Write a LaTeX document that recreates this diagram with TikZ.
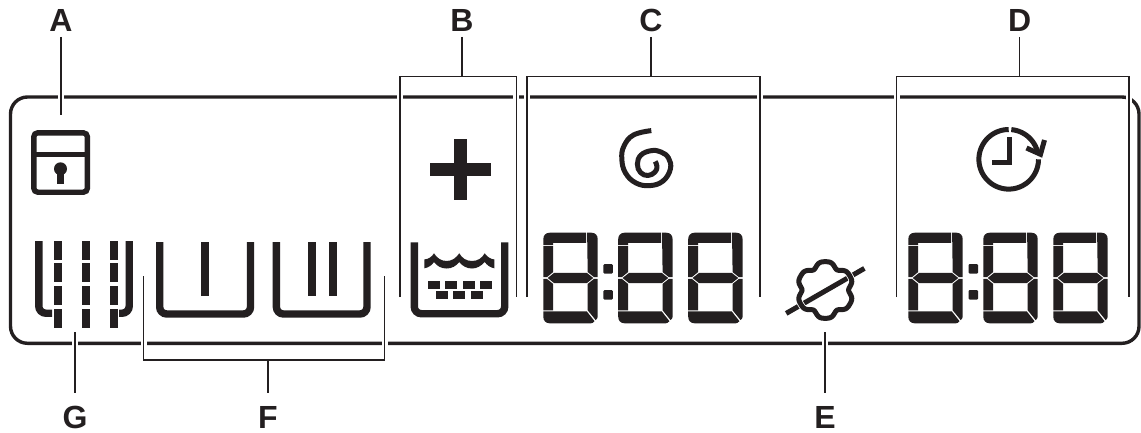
\documentclass[tikz,border=0pt]{standalone}
\usepackage{fontspec}
\setmainfont{Liberation Sans}
\definecolor{ink}{HTML}{231F20}
\tikzset{
  x=1pt,y=-1pt,
  toplabel/.style={font=\bfseries\fontsize{32}{32}\selectfont,text=ink,inner xsep=0pt,inner ysep=0pt,text height=23.5pt,text depth=0pt,anchor=center},
  botlabel/.style={font=\bfseries\fontsize{32}{32}\selectfont,text=ink,inner xsep=0pt,inner ysep=0pt,text height=23pt,text depth=0pt,anchor=center},
  leader/.style={draw=ink,line width=1.4pt,preaction={draw=white,line width=6pt}},
  leaderplain/.style={draw=ink,line width=1.4pt},
  frameline/.style={draw=ink,line width=3.4pt,rounded corners=17pt},
  icon/.style={draw=ink,line width=5pt,line cap=butt},
  tub/.style={draw=ink,line width=7.4pt,rounded corners=7pt,line cap=butt},
}
\newcommand{\lcddigit}[2]{%
\begin{scope}[shift={(#1,#2)}]
\fill[ink] (0,12.5) -- (0,6.5) .. controls (0,2.5) and (2.5,0) .. (6.5,0) -- (42.8,0) -- (42.8,10.2) -- (9.8,10.2) -- (9.8,12.5) -- cycle;
\fill[ink] (43.8,0) -- (48,0) .. controls (52,0) and (54.4,2.5) .. (54.4,6.5) -- (54.4,44.5) -- (50.8,44.5) -- (44.4,39.4) -- cycle;
\fill[ink] (0,13.5) -- (9.8,13.5) -- (9.8,39.4) -- (3.6,44.5) -- (0,44.5) -- cycle;
\fill[ink] (4.4,45.3) -- (10.8,40.2) -- (43.6,40.2) -- (50,45.3) -- (43.6,50.4) -- (10.8,50.4) -- cycle;
\fill[ink] (0,46.1) -- (3.6,46.1) -- (9.8,51.2) -- (9.8,77.6) -- (0,77.6) -- cycle;
\fill[ink] (0,78.6) -- (43.4,78.6) -- (51.2,88.4) .. controls (50,90) and (49,90.6) .. (47.5,90.6) -- (6.5,90.6) .. controls (2.5,90.6) and (0,88) .. (0,84) -- cycle;
\fill[ink] (44.4,51.2) -- (50.8,46.1) -- (54.4,46.1) -- (54.4,84) .. controls (54.4,85.2) and (53.6,86.4) .. (52.4,87.4) -- (44.4,77.6) -- cycle;
\end{scope}}
\newcommand{\lcdcolon}[2]{%
\fill[ink,rounded corners=1.2pt] (#1,#2) rectangle ++(9.6,9.6);
\fill[ink,rounded corners=1.2pt] (#1,#2+26) rectangle ++(9.6,9.6);}
\begin{document}
\begin{tikzpicture}
\useasboundingbox[fill=white] (0,0) rectangle (1141,432);
% frame
\draw[frameline] (10.5,97) rectangle (1139,343.3);
% labels
\node[toplabel] (A) at (61,19.85) {A};
\node[toplabel] (B) at (462,19.85) {B};
\node[toplabel] (C) at (651,19.85) {C};
\node[toplabel] (D) at (1019.7,19.85) {D};
\node[botlabel] (E) at (825,416.5) {E};
\node[botlabel] (F) at (268,416.5) {F};
\node[botlabel] (G) at (75,416.5) {G};
% named ends
\coordinate (Aend) at (61,115);
\coordinate (Eend) at (825,332);
\coordinate (Gend) at (75,332);
\coordinate (Bl) at (400,297); \coordinate (Br) at (516.3,297);
\coordinate (Cl) at (527,297); \coordinate (Cr) at (760,297);
\coordinate (Dl) at (896.5,297); \coordinate (Dr) at (1129,297);
\coordinate (Fl) at (143.5,276); \coordinate (Fr) at (384.7,276);
\coordinate (Ttop) at (0,76.3);
\coordinate (Fbot) at (0,360);
% leaders
\path[leader,shorten <=5pt] (A.south) -- (Aend);
\path[leader,shorten <=12pt] (E.north) -- (Eend);
\path[leader,shorten <=12pt] (G.north) -- (Gend);
\path[leader,line join=miter] (Bl) -- (Bl |- Ttop) -- (Br |- Ttop) -- (Br);
\path[leader,line join=miter] (Cl) -- (Cl |- Ttop) -- (Cr |- Ttop) -- (Cr);
\path[leader,line join=miter] (Dl) -- (Dl |- Ttop) -- (Dr |- Ttop) -- (Dr);
\path[leader,line join=miter] (Fl) -- (Fl |- Fbot) -- (Fr |- Fbot) -- (Fr);
\path[leaderplain,shorten <=5pt] (B.south) -- (B.south |- Ttop);
\path[leaderplain,shorten <=5pt] (C.south) -- (C.south |- Ttop);
\path[leaderplain,shorten <=5pt] (D.south) -- (D.south |- Ttop);
\path[leaderplain,shorten <=12pt] (F.north) -- (F.north |- Fbot);
% lock
\draw[draw=ink,line width=5.4pt,rounded corners=4pt] (33.8,132.8) rectangle (87.4,192.2);
\fill[ink] (33.8,151.6) rectangle (87.4,157);
\fill[ink] (60.5,168.8) circle (6.5);
\fill[ink] (57.4,170) rectangle (63.6,184);
% G icon
\draw[tub] (38.8,241) -- (38.8,313.2) -- (52,313.2);
\draw[tub] (129.2,241) -- (129.2,313.2) -- (119,313.2);
\foreach \xx in {54,82,110}{
  \fill[ink] (\xx,241) rectangle ++(8,19);
  \fill[ink] (\xx,263.3) rectangle ++(8,18.7);
  \fill[ink] (\xx,286) rectangle ++(8,19);
  \fill[ink] (\xx,309) rectangle ++(8,18.8);
}
% tubs
\draw[tub] (159.7,242) -- (159.7,314) -- (250.5,314) -- (250.5,242);
\fill[ink] (201,242) rectangle (209,296);
\draw[tub] (276.4,242) -- (276.4,314) -- (367,314) -- (367,242);
\fill[ink] (308,242) rectangle (316,296);
\fill[ink] (329,242) rectangle (337,296);
% plus
\fill[ink] (430,163.3) rectangle (491,175.7);
\fill[ink] (454.3,139.3) rectangle (467,199.7);
% water tub
\draw[tub] (414.3,242.3) -- (414.3,313.7) -- (504.7,313.7) -- (504.7,242.3);
\fill[ink] (424.3,268.3) -- (424.3,259.5) .. controls (429,259) and (432,256.5) .. (434,253.3)
  .. controls (437,258) and (441,261) .. (446.7,261) .. controls (452,261) and (456,258) .. (459.3,253.3)
  .. controls (462,258) and (466,261) .. (472,261) .. controls (478,261) and (482,258) .. (484.7,253.3)
  .. controls (487,256.5) and (490,259) .. (494.3,259.5) -- (494.3,268.3)
  .. controls (490,267.5) and (487,265) .. (484.7,262) .. controls (481,266) and (477,268.5) .. (472,268.5)
  .. controls (467,268.5) and (462,266) .. (459.3,262) .. controls (456,266) and (452,268.5) .. (446.7,268.5)
  .. controls (441,268.5) and (437,266) .. (434,262) .. controls (432,265) and (429,267.5) .. (424.3,268.3) -- cycle;
\foreach \xx in {428,445,463,480}{\fill[ink] (\xx,281) rectangle ++(12,8);}
\foreach \xx in {436,453,471}{\fill[ink] (\xx,291) rectangle ++(12,8);}
% digits
\lcddigit{543.3}{232.7}\lcddigit{618.2}{232.7}\lcddigit{688.2}{232.7}
\lcdcolon{603.3}{264}
\lcddigit{908.3}{232.7}\lcddigit{983.3}{232.7}\lcddigit{1053.3}{232.7}
\lcdcolon{968.5}{264}
% spiral
\draw[icon,line join=round] plot[smooth,tension=0.7] coordinates {(651.3,130.6) (633.5,135) (624,146) (621.8,159) (625.5,173) (636,183) (650,185.6) (663,181) (670.4,169) (668.5,158) (661,152) (651.5,150.6) (641,155) (637.4,164) (640.5,172.5) (648,175.5) (655,172) (657,166.5) (655.2,161.4)};
% clock
\draw[icon] plot[domain=90:360,samples=70] ({1008.7+29.8*cos(\x)},{159.3-29.8*sin(\x)});
\draw[icon] plot[domain=85:14,samples=20] ({1008.7+29.8*cos(\x)},{159.3-29.8*sin(\x)});
\draw[icon,line join=miter] (1026.5,148) -- (1040.5,154.3) -- (1044.5,140);
\draw[icon,line join=miter] (1009.8,137) -- (1009.8,162) -- (991.7,162);
% no-steam cloud
\draw[icon] (786.2,313.4) -- (864.4,268.4);
\draw[icon,preaction={draw=white,line width=6.6pt}] plot[domain=0:360,samples=145,smooth] ({825.3+(26.5-2.5*cos(6*\x)-0.7*cos(12*\x))*cos(\x)},{290-(26.5-2.5*cos(6*\x)-0.7*cos(12*\x))*sin(\x)}) -- cycle;
\end{tikzpicture}
\end{document}
